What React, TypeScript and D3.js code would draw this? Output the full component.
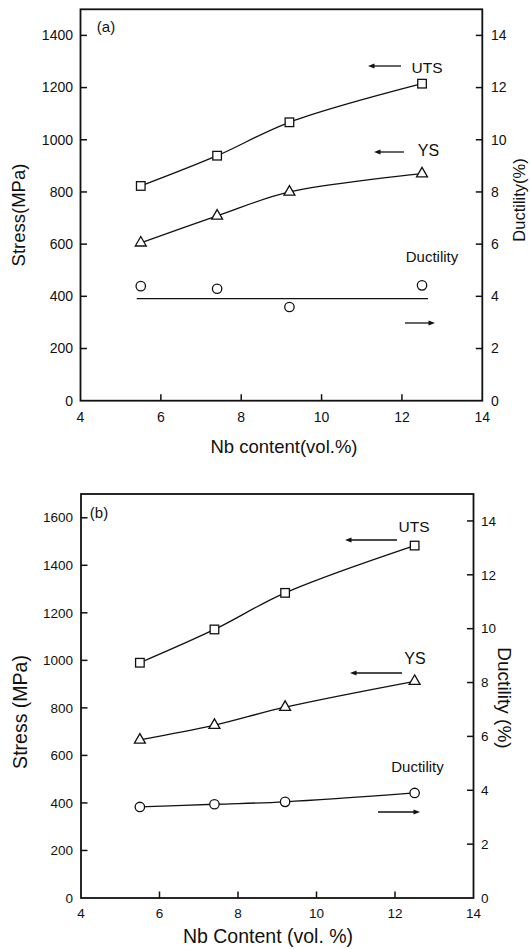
import React from "react";
import * as d3 from "d3";

// ---- data ----
const nbContent = [5.5, 7.4, 9.2, 12.5];
const utsA = [823, 939, 1067, 1215];
const ysA = [605, 708, 800, 870];
const ductA = [4.39, 4.29, 3.59, 4.42];
const ductFitAx = [5.4, 12.65];
const ductFitAy = [3.91, 3.91];

const utsB = [990, 1130, 1284, 1483];
const ysB = [665, 727, 803, 912];
const ductB = [3.38, 3.48, 3.57, 3.9];

const xTicks = [4, 6, 8, 10, 12, 14];
const stressTicksA = [0, 200, 400, 600, 800, 1000, 1200, 1400];
const stressTicksB = [0, 200, 400, 600, 800, 1000, 1200, 1400, 1600];
const ductTicks = [0, 2, 4, 6, 8, 10, 12, 14];

const FONT = "'Liberation Sans', Arial, Helvetica, sans-serif";

type Lbl = { text: string; x: number; y: number; size: number };
type Arrow = { x1: number; x2: number; y: number };

type PanelCfg = {
  left: number; right: number; top: number; bottom: number;
  stressMax: number; stressTicks: number[];
  uts: number[]; ys: number[]; duct: number[];
  ductLine: boolean; fitX?: number[]; fitY?: number[];
  curve: d3.CurveFactory;
  tag: Lbl; uts_l: Lbl; ys_l: Lbl; duct_l: Lbl;
  utsArrow: Arrow; ysArrow: Arrow; ductArrow: Arrow;
  yLabel: Lbl; yLabelX: number; rLabel: Lbl; rLabelX: number; rRot: number;
  xLabel: Lbl; tickSize: number; tickFont: number; leftLabelX: number; rightLabelX: number; xTickY: number;
};

function ArrowMark({ a }: { a: Arrow }) {
  const dir = a.x2 > a.x1 ? 1 : -1;
  const hl = 6.5, hw = 2.4;
  return (
    <g>
      <line x1={a.x1} x2={a.x2 - dir * hl * 0.6} y1={a.y} y2={a.y} stroke="#111" strokeWidth={1.3} />
      <path d={`M${a.x2},${a.y} L${a.x2 - dir * hl},${a.y - hw} L${a.x2 - dir * hl},${a.y + hw} Z`} fill="#111" />
    </g>
  );
}

function Panel({ c }: { c: PanelCfg }) {
  const x = d3.scaleLinear().domain([4, 14]).range([c.left, c.right]);
  const yS = d3.scaleLinear().domain([0, c.stressMax]).range([c.bottom, c.top]);
  const yD = d3.scaleLinear().domain([0, 15]).range([c.bottom, c.top]);
  const mk = (sc: d3.ScaleLinear<number, number>) =>
    d3.line<number>().x((_, i) => x(nbContent[i])).y((v) => sc(v)).curve(c.curve);
  const utsPath = mk(yS)(c.uts) as string;
  const ysPath = mk(yS)(c.ys) as string;
  const ductPath = mk(yD)(c.duct) as string;
  const tri = d3.symbol().type(d3.symbolTriangle).size(52)() as string;
  const ts = c.tickSize;
  const sw = 1.3;
  return (
    <g fontFamily={FONT} fill="#111">
      <path d={utsPath} fill="none" stroke="#111" strokeWidth={sw} />
      <path d={ysPath} fill="none" stroke="#111" strokeWidth={sw} />
      {c.ductLine ? (
        <path d={ductPath} fill="none" stroke="#111" strokeWidth={sw} />
      ) : (
        <line x1={x(c.fitX![0])} x2={x(c.fitX![1])} y1={yD(c.fitY![0])} y2={yD(c.fitY![1])} stroke="#111" strokeWidth={sw} />
      )}
      {c.uts.map((v, i) => (
        <rect key={"u" + i} x={x(nbContent[i]) - 4.3} y={yS(v) - 4.3} width={8.6} height={8.6} fill="#fff" stroke="#111" strokeWidth={1.3} />
      ))}
      {c.ys.map((v, i) => (
        <path key={"y" + i} d={tri} transform={`translate(${x(nbContent[i])},${yS(v)})`} fill="#fff" stroke="#111" strokeWidth={1.3} />
      ))}
      {c.duct.map((v, i) => (
        <circle key={"d" + i} cx={x(nbContent[i])} cy={yD(v)} r={4.7} fill="#fff" stroke="#111" strokeWidth={1.3} />
      ))}
      <rect x={c.left} y={c.top} width={c.right - c.left} height={c.bottom - c.top} fill="none" stroke="#111" strokeWidth={1.8} />
      {c.stressTicks.map((t) => (
        <g key={"ls" + t}>
          {t > 0 && <line x1={c.left} x2={c.left + ts} y1={yS(t)} y2={yS(t)} stroke="#111" strokeWidth={1.5} />}
          <text x={c.leftLabelX} y={yS(t)} dy="0.35em" textAnchor="end" fontSize={c.tickFont}>{t}</text>
        </g>
      ))}
      {ductTicks.map((t) => (
        <g key={"rd" + t}>
          {t > 0 && <line x1={c.right - ts} x2={c.right} y1={yD(t)} y2={yD(t)} stroke="#111" strokeWidth={1.5} />}
          <text x={c.rightLabelX} y={yD(t)} dy="0.35em" textAnchor="start" fontSize={c.tickFont}>{t}</text>
        </g>
      ))}
      {xTicks.map((t) => (
        <g key={"bx" + t}>
          {t > 4 && t < 14 && <line x1={x(t)} x2={x(t)} y1={c.bottom} y2={c.bottom - ts} stroke="#111" strokeWidth={1.5} />}
          <text x={x(t)} y={c.xTickY} dy="0.35em" textAnchor="middle" fontSize={c.tickFont}>{t}</text>
        </g>
      ))}
      {[c.tag, c.uts_l, c.ys_l, c.duct_l].map((l, i) => (
        <text key={"a" + i} x={l.x} y={l.y} dy="0.35em" textAnchor="middle" fontSize={l.size}>{l.text}</text>
      ))}
      <ArrowMark a={c.utsArrow} />
      <ArrowMark a={c.ysArrow} />
      <ArrowMark a={c.ductArrow} />
      <text transform={`translate(${c.yLabelX},${c.yLabel.y}) rotate(-90)`} dy="0.35em" textAnchor="middle" fontSize={c.yLabel.size}>{c.yLabel.text}</text>
      <text transform={`translate(${c.rLabelX},${c.rLabel.y}) rotate(${c.rRot})`} dy="0.35em" textAnchor="middle" fontSize={c.rLabel.size}>{c.rLabel.text}</text>
      <text x={c.xLabel.x} y={c.xLabel.y} dy="0.35em" textAnchor="middle" fontSize={c.xLabel.size}>{c.xLabel.text}</text>
    </g>
  );
}

const panelA: PanelCfg = {
  left: 80.5, right: 482.3, top: 9.3, bottom: 400.7,
  stressMax: 1500, stressTicks: stressTicksA,
  uts: utsA, ys: ysA, duct: ductA, ductLine: false, fitX: ductFitAx, fitY: ductFitAy,
  curve: d3.curveCatmullRom.alpha(0.5),
  tag: { text: "(a)", x: 106, y: 27, size: 15 },
  uts_l: { text: "UTS", x: 427, y: 68, size: 15.5 },
  ys_l: { text: "YS", x: 428.5, y: 150, size: 16 },
  duct_l: { text: "Ductility", x: 432, y: 257, size: 15 },
  utsArrow: { x1: 401, x2: 368, y: 66 },
  ysArrow: { x1: 404, x2: 374, y: 152 },
  ductArrow: { x1: 405, x2: 435, y: 323 },
  yLabel: { text: "Stress(MPa)", x: 0, y: 215, size: 18.5 }, yLabelX: 19,
  rLabel: { text: "Ductility(%)", x: 0, y: 200, size: 16.5 }, rLabelX: 519, rRot: -90,
  xLabel: { text: "Nb content(vol.%)", x: 284, y: 447, size: 18.5 },
  tickSize: 6.5, tickFont: 14, leftLabelX: 73, rightLabelX: 491, xTickY: 417,
};

const panelB: PanelCfg = {
  left: 81, right: 473.5, top: 494, bottom: 898,
  stressMax: 1700, stressTicks: stressTicksB,
  uts: utsB, ys: ysB, duct: ductB, ductLine: true,
  curve: d3.curveCatmullRom.alpha(0.5),
  tag: { text: "(b)", x: 99, y: 513, size: 15 },
  uts_l: { text: "UTS", x: 414, y: 527, size: 15.5 },
  ys_l: { text: "YS", x: 415, y: 658, size: 16 },
  duct_l: { text: "Ductility", x: 417.5, y: 767, size: 15 },
  utsArrow: { x1: 397, x2: 345, y: 540 },
  ysArrow: { x1: 402, x2: 350, y: 673 },
  ductArrow: { x1: 378, x2: 420, y: 812 },
  yLabel: { text: "Stress (MPa)", x: 0, y: 712, size: 19.5 }, yLabelX: 20,
  rLabel: { text: "Ductility (%)", x: 0, y: 698, size: 19 }, rLabelX: 505, rRot: 90,
  xLabel: { text: "Nb Content (vol. %)", x: 268, y: 936, size: 19.5 },
  tickSize: 6.5, tickFont: 13.5, leftLabelX: 73, rightLabelX: 481, xTickY: 913,
};

export default function App() {
  return (
    <svg width={530} height={949} style={{ position: "absolute", left: 0, top: 0, background: "#fff" }}>
      <rect width={530} height={949} fill="#fff" />
      <Panel c={panelA} />
      <Panel c={panelB} />
    </svg>
  );
}
